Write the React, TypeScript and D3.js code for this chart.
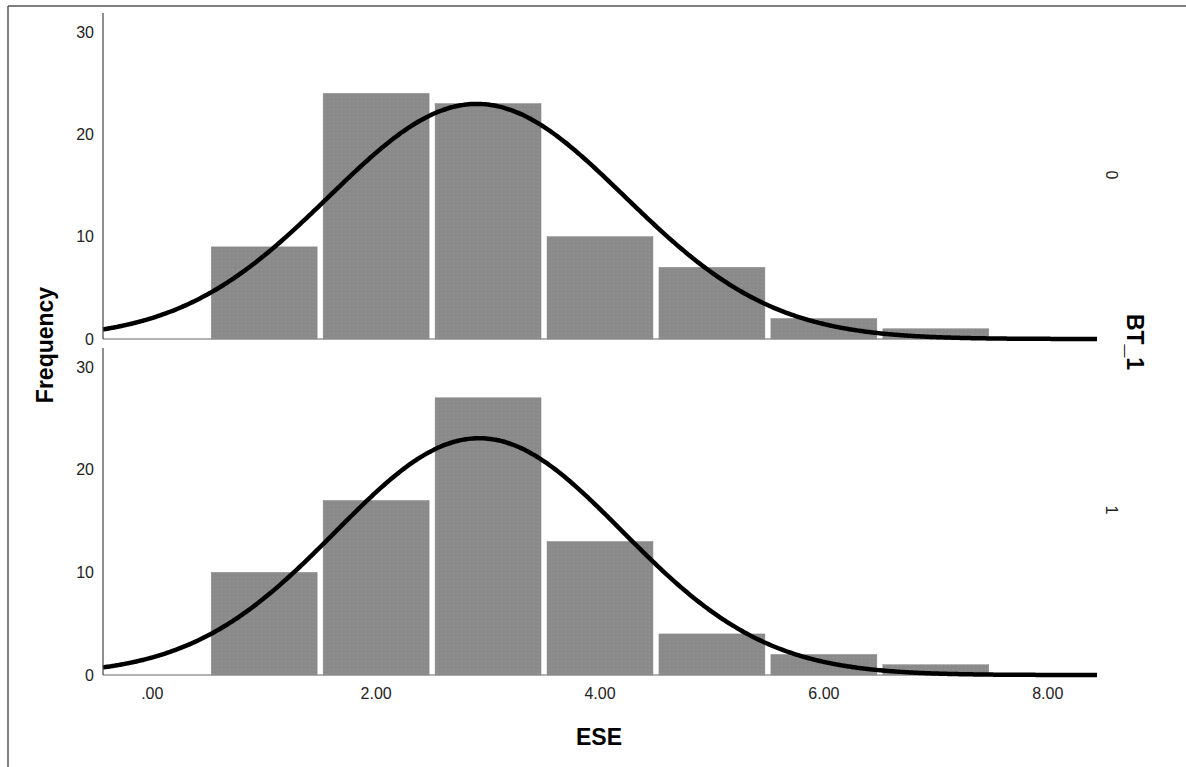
import React from "react";
import * as d3 from "d3";

const binCenters = [1, 2, 3, 4, 5, 6, 7];
const group0Counts = [9, 24, 23, 10, 7, 2, 1];
const group1Counts = [10, 17, 27, 13, 4, 2, 1];
const groupLabels = ["0", "1"];
const xTicks = [0, 2, 4, 6, 8];
const yTicks = [0, 10, 20, 30];
const curveMeans = [2.9, 2.92];
const curveSds = [1.32, 1.28];
const binWidth = 1;

const W = 1186;
const H = 767;
const axisLeft = 103;
const axisRight = 1097;
const panels = [
  { top: 13, bottom: 339 },
  { top: 348, bottom: 675 },
];
const FONT = "Arial, 'Liberation Sans', Helvetica, sans-serif";

export default function App() {
  const x = d3.scaleLinear().domain([-0.44, 8.44]).range([axisLeft, axisRight]);
  const groups = [group0Counts, group1Counts];

  return (
    <svg width={W} height={H} style={{ position: "absolute", left: 0, top: 0, background: "#fff" }}>
      <defs>
        <pattern id="dots" width="4" height="4" patternUnits="userSpaceOnUse">
          <rect width="4" height="4" fill="#8a8a8a" />
          <rect x="1" y="1" width="1" height="1" fill="#9a9a9a" />
        </pattern>
      </defs>
      {/* outer frame */}
      <line x1={8} y1={6} x2={W} y2={6} stroke="#555" strokeWidth={1.5} />
      <line x1={8} y1={6} x2={8} y2={H} stroke="#555" strokeWidth={1.5} />

      {panels.map((p, gi) => {
        const counts = groups[gi];
        const y = d3.scaleLinear().domain([0, 31.85]).range([p.bottom, p.top]);
        const N = d3.sum(counts);
        const mu = curveMeans[gi];
        const sd = curveSds[gi];
        const pts = d3.range(0, 401).map((i) => {
          const v = -0.44 + (8.88 * i) / 400;
          const dens = (N * binWidth) / (sd * Math.sqrt(2 * Math.PI)) * Math.exp(-0.5 * ((v - mu) / sd) ** 2);
          return [v, dens] as [number, number];
        });
        const line = d3
          .line<[number, number]>()
          .x((d) => x(d[0]))
          .y((d) => y(d[1]))
          .curve(d3.curveBasis);
        return (
          <g key={gi}>
            <line x1={axisLeft} y1={p.bottom} x2={axisRight} y2={p.bottom} stroke="#999" strokeWidth={1.5} />
            {binCenters.map((c, i) => {
              const x0 = x(c - binWidth / 2) + 3;
              const x1 = x(c + binWidth / 2) - 3;
              const yt = y(counts[i]);
              return (
                <rect
                  key={i}
                  x={x0}
                  y={yt}
                  width={x1 - x0}
                  height={p.bottom - yt}
                  fill="url(#dots)"
                  stroke="#8a8a8a"
                  strokeWidth={0.5}
                />
              );
            })}
            <path d={line(pts) || ""} fill="none" stroke="#000" strokeWidth={4.5} />
            <line x1={axisLeft} y1={p.top} x2={axisLeft} y2={p.bottom} stroke="#444" strokeWidth={1.2} />
            {yTicks.map((t) => (
              <text
                key={t}
                x={94}
                y={y(t)}
                dy="0.35em"
                textAnchor="end"
                fontFamily={FONT}
                fontSize={16}
                fill="#222"
              >
                {t}
              </text>
            ))}
            <text
              transform={`translate(1112, ${gi === 0 ? 175 : 510}) rotate(90)`}
              textAnchor="middle"
              dy="0.35em"
              fontFamily={FONT}
              fontSize={16}
              fill="#222"
            >
              {groupLabels[gi]}
            </text>
          </g>
        );
      })}

      {xTicks.map((t) => (
        <text
          key={t}
          x={x(t)}
          y={693}
          dy="0.35em"
          textAnchor="middle"
          fontFamily={FONT}
          fontSize={16}
          fill="#222"
        >
          {t === 0 ? ".00" : t.toFixed(2)}
        </text>
      ))}

      <text
        transform="translate(45, 345) rotate(-90)"
        textAnchor="middle"
        dy="0.35em"
        fontFamily={FONT}
        fontSize={23}
        fontWeight="bold"
        fill="#000"
      >
        Frequency
      </text>
      <text x={599} y={737} dy="0.35em" textAnchor="middle" fontFamily={FONT} fontSize={23} fontWeight="bold" fill="#000">
        ESE
      </text>
      <text
        transform="translate(1135, 342) rotate(90)"
        textAnchor="middle"
        dy="0.35em"
        fontFamily={FONT}
        fontSize={23}
        fontWeight="bold"
        fill="#000"
      >
        BT_1
      </text>
    </svg>
  );
}
